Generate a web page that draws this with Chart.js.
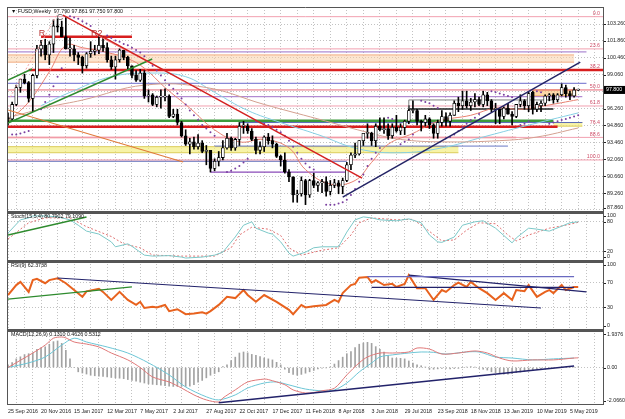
<!DOCTYPE html>
<html>
<head>
<meta charset="utf-8">
<script src="https://cdn.jsdelivr.net/npm/chart.js@4.4.1/dist/chart.umd.min.js"></script>
<style>
  html, body { margin: 0; padding: 0; background: #fff; }
  #wrap { position: relative; width: 625px; height: 419px; overflow: hidden; background: #fff; }
  canvas { position: absolute; left: 0; }
</style>
</head>
<body>
<div id="wrap">
  <canvas id="cMain" width="625" height="218" style="top:0"></canvas>
  <canvas id="cStoch" width="625" height="61" style="top:206px"></canvas>
  <canvas id="cRsi" width="625" height="81" style="top:255px"></canvas>
  <canvas id="cMacd" width="625" height="95" style="top:324px"></canvas>
</div>
<script>
// weekly bars, index 0 = week of 25 Sep 2016
const openP = [95.5,95.4,96.6,98.0,98.7,98.4,97.1,99.0,101.2,101.5,
  100.7,101.6,103.1,103.0,102.2,101.2,101.2,100.7,100.5,99.8,
  100.8,101.0,101.1,101.5,101.3,100.3,99.7,100.3,101.1,100.5,
  99.8,99.0,98.6,99.2,97.3,97.4,96.6,97.2,97.2,97.3,
  95.6,95.8,95.1,94.0,93.3,93.5,93.1,93.4,92.7,92.8,
  91.3,91.9,92.2,93.0,93.8,93.0,93.7,94.8,94.8,94.4,
  93.7,92.8,93.1,93.9,93.6,93.3,92.3,92.0,91.0,90.6,
  89.1,89.2,90.3,89.1,90.3,89.9,90.1,90.2,89.4,89.9,
  90.1,89.8,90.3,91.6,92.4,92.5,93.6,94.2,94.2,93.6,
  94.8,94.5,94.6,94.0,94.7,94.4,94.7,95.2,96.1,96.1,
  95.2,95.1,95.4,94.9,94.2,95.1,95.6,95.2,95.7,96.7,
  96.5,96.9,96.5,96.8,97.0,96.6,97.4,96.9,96.2,96.2,
  95.6,96.3,95.8,95.6,96.6,96.9,96.5,97.6,96.2,96.5,
  96.7,97.3,97.4,97.0,97.4,98.0,97.5,97.3,97.79];
const highP = [95.9,96.8,98.2,98.7,99.1,98.5,99.1,101.5,101.9,102.0,
  101.8,103.6,103.7,103.5,103.8,102.1,101.5,100.9,100.6,100.9,
  101.8,101.5,102.3,102.2,101.7,100.6,100.6,101.2,101.1,100.6,
  99.8,99.4,99.5,99.4,97.8,97.5,97.3,97.8,97.9,97.4,
  96.2,96.2,95.2,94.5,93.8,93.9,94.1,93.6,93.2,92.8,
  92.1,92.7,93.6,94.2,93.9,93.8,95.1,95.2,95.0,94.6,
  93.9,93.5,94.0,94.2,94.0,93.4,92.4,92.6,91.2,90.6,
  89.5,90.6,90.4,90.4,90.9,90.2,90.4,90.6,90.3,90.4,
  90.3,90.5,91.8,92.6,93.4,93.6,94.2,95.0,94.3,95.0,
  95.5,95.5,95.0,95.0,95.7,95.0,95.3,96.5,96.9,96.2,
  95.3,95.7,95.5,95.0,95.3,96.1,95.9,95.9,96.9,97.2,
  97.7,97.7,97.1,97.5,97.2,97.7,97.6,97.0,96.7,96.2,
  96.4,96.7,96.0,96.6,97.4,97.0,97.6,97.7,96.8,96.9,
  97.4,97.5,97.5,97.5,98.3,98.2,97.7,98.0,97.861];
const lowP = [94.9,95.3,96.5,97.6,98.3,96.8,96.0,98.8,100.6,100.3,
  99.9,100.9,102.6,102.2,101.2,100.6,100.2,99.9,99.2,99.6,
  100.5,100.7,100.8,101.0,100.1,99.5,98.7,100.1,100.3,99.5,
  98.8,98.5,98.5,97.1,96.8,96.5,96.4,96.3,96.9,95.5,
  95.5,94.9,93.9,93.2,92.5,92.9,92.9,92.6,91.6,91.0,
  91.1,91.5,92.0,92.9,92.8,92.8,93.2,94.2,94.2,93.6,
  92.5,92.5,92.7,93.3,93.0,92.2,91.5,90.9,90.2,88.5,
  88.5,89.0,88.3,88.9,89.7,89.4,89.3,89.0,89.1,89.7,
  89.2,89.2,90.2,91.2,92.2,92.4,93.2,93.8,93.2,93.1,
  94.4,94.2,93.7,93.8,94.3,94.1,94.1,95.0,95.9,94.9,
  94.4,94.8,94.6,93.8,93.8,94.8,94.8,94.8,95.7,96.0,
  96.2,96.3,96.1,96.4,96.5,96.4,96.5,96.0,95.0,95.0,
  95.4,95.8,94.9,95.5,96.4,96.2,96.0,95.8,96.0,96.0,
  96.5,96.9,96.7,96.8,97.3,97.2,97.0,97.2,97.75];
const closeP = [95.4,96.6,98.0,98.7,98.4,97.1,99.0,101.2,101.5,100.7,
  101.6,103.1,103.0,102.2,101.2,101.2,100.7,100.5,99.8,100.8,
  101.0,101.1,101.5,101.3,100.3,99.7,100.3,101.1,100.5,99.8,
  99.0,98.6,99.2,97.3,97.4,96.6,97.2,97.2,97.3,95.6,
  95.8,95.1,94.0,93.3,93.5,93.1,93.4,92.7,92.8,91.3,
  91.9,92.2,93.0,93.8,93.0,93.7,94.8,94.8,94.4,93.7,
  92.8,93.1,93.9,93.6,93.3,92.3,92.0,91.0,90.6,89.1,
  89.2,90.3,89.1,90.3,89.9,90.1,90.2,89.4,89.9,90.1,
  89.8,90.3,91.6,92.4,92.5,93.6,94.2,94.2,93.6,94.8,
  94.5,94.6,94.0,94.7,94.4,94.7,95.2,96.1,96.1,95.2,
  95.1,95.4,94.9,94.2,95.1,95.6,95.2,95.7,96.7,96.5,
  96.9,96.5,96.8,97.0,96.6,97.4,96.9,96.2,96.2,95.6,
  96.3,95.8,95.6,96.6,96.9,96.5,97.5,96.2,96.6,96.7,
  97.3,97.4,97.0,97.4,98.0,97.5,97.3,97.8,97.8];

// date labels on the time axis (every 8 weeks)
const dateLabels = ['25 Sep 2016','20 Nov 2016','15 Jan 2017','12 Mar 2017','7 May 2017','2 Jul 2017',
  '27 Aug 2017','22 Oct 2017','17 Dec 2017','11 Feb 2018','8 Apr 2018','3 Jun 2018','29 Jul 2018',
  '23 Sep 2018','18 Nov 2018','13 Jan 2019','10 Mar 2019','5 May 2019'];
const dateBars = [0,8,16,24,32,40,48,56,64,72,80,88,96,104,112,120,128,136];

// price scale ticks
const mainTicks = [103.26,101.86,100.46,99.06,97.66,96.26,94.86,93.46,92.06,90.66,89.26,87.86];
const mainTickText = ['103.260','101.860','100.460','99.060','','96.260','94.860','93.460','92.060','90.660','89.260','87.860'];

// moving averages
const fastBars = [0,5,10,14,18,24,29,33,38,44,50,56,62,68,72,78,84,88,92,98,104,112,118,124,130,138];
const fastVals = [95.2,96.8,99.3,101.5,101.3,100.9,100.4,99.6,98.0,96.3,94.5,93.5,93.7,93.0,91.2,90.0,90.3,91.8,93.3,94.2,95.2,95.7,96.3,96.2,96.5,97.0];
const midBars = [8,15,25,35,43,50,58,66,75,85,95,105,115,125,138];
const midVals = [96.5,97.6,98.9,99.2,98.9,97.6,96.1,95.1,94.1,92.9,92.6,93.0,93.9,94.8,95.9];
const slowBars = [0,10,18,33,48,62,75,88,95,105,119,128,138];
const slowVals = [95.5,96.4,96.96,98.2,98.0,96.6,95.4,94.2,93.7,93.5,93.6,93.9,94.65];

// parabolic SAR dots
const sarBars = [1,2,3,4,5,8,9,10,11,12,13,15,16,17,18,19,20,24,25,26,27,28,29,30,31,32,33,34,35,36,37,38,39,40,41,42,43,44,45,46,47,48,49,50,
  53,54,55,56,57,58,60,61,62,63,64,65,66,67,68,69,70,71,72,73,74,77,78,79,80,81,82,83,84,85,86,87,88,89,90,
  92,93,94,95,96,97,98,100,101,102,103,104,106,107,108,109,110,111,112,113,114,117,118,119,120,121,122,124,125,126,128,129,
  131,132,133,134,135,136,137,138];
const sarVals = [94.1,94.1,94.2,94.3,94.4,96.2,96.8,97.4,98.1,98.9,99.6,103.9,103.8,103.7,103.5,103.3,103.1,
  102.3,102.1,101.9,101.8,101.6,101.5,101.3,101.1,100.9,100.6,100.2,99.8,99.4,99.0,98.6,98.2,97.9,97.5,97.1,96.6,96.1,95.7,95.3,94.9,94.6,94.3,94.0,
  91.0,91.1,91.3,91.5,91.8,92.1,95.2,95.1,95.0,94.9,94.7,94.5,94.3,94.0,93.6,93.1,92.6,92.1,91.7,91.4,91.2,
  88.3,88.3,88.3,88.4,88.5,88.7,89.1,89.6,90.2,90.8,91.5,92.1,92.6,93.0,95.5,95.4,95.3,93.3,93.5,93.7,94.1,
  96.9,96.8,96.7,96.5,96.3,93.8,93.9,94.1,94.4,94.7,95.0,95.3,95.5,95.8,97.7,97.6,97.5,97.4,97.3,97.2,
  94.9,95.0,95.2,97.7,97.6,95.0,95.1,95.2,95.3,95.4,95.5,95.6,95.7];

// horizontal levels (price, first bar, last bar)
const levelVals = [103.87,101.2,100.95,99.45,102.2,98.35,97.8,97.24,96.47,95.25,95.1,94.75,93.87,93.87,93.15,92.0,91.9,91.0,96.22,96.97];
const levelFrom = [0,0,0,5,8,0,0,0,0,0,56,0,0,0,50,0,0,49,97,97];
const levelTo   = [144,144,140,144,30,140,144,139,144,132,139,133,144,123,121,144,82,82,132,132];
const levelColors = ['#f2a0b0','#f2a0b0','#9a70c8','#d81e1e','#d81e1e','#6a6acc','#e86a78','#a070c8','#f2a0b0','#3c9a3c',
  '#5a6ab8','#d81e1e','#f2a0b0','#ee7e7e','#6878c4','#f2a0b0','#4a5ab0','#8a4ab8','#202020','#808080'];
const levelWidths = [1,1,1,2.5,2.5,1,1,1,1,2.5,1,2.5,1,1.5,1,1,1,1.2,1.5,1];

// shaded zones (low, high, first bar, last bar)
const bandLo = [100.1,92.6,97.3,94.8];
const bandHi = [100.7,93.1,97.8,95.1];
const bandFrom = [0,0,127,132];
const bandTo = [137,109,137.6,139];
const bandFill = ['rgba(250,204,160,0.5)','rgba(242,236,120,0.65)','rgba(250,190,110,0.6)','rgba(245,240,140,0.75)'];
const bandEdge = ['#f3ae82','#dccd5a','#eea050','#dccd5a'];

// trend lines (bar, price) -> (bar, price)
const trendX1 = [13.3,21.5,0,0,0,81,0.5,97];
const trendY1 = [104.0,102.35,95.06,98.62,96.14,88.93,97.2,96.22];
const trendX2 = [85.7,36.8,34.9,5.8,42.4,138.5,12.1,97];
const trendY2 = [90.5,99.6,100.36,99.53,91.83,100.11,104.17,96.97];
const trendColors = ['#d42020','#ee8080','#2e8b2e','#2e8b2e','#e07a3a','#242466','#f0a0a0','#808080'];
const trendWidths = [1.5,1,1.5,1.5,1.2,1.5,1,1];

// fibonacci labels
const fibVals = [103.87,101.2,99.45,97.8,96.47,94.84,93.87,92.0];
const fibText = ['0.0','23.6','38.2','50.0','61.8','76.4','88.6','100.0'];

// chart notes
const noteText = ['R','R2','C'];
const noteBars = [8.2,21.5,12.6];
const noteVals = [102.45,102.45,103.78];

// Stochastic (15,5,4)
const stochBars = [0,3,5,6,9,12,15,17,19,22,25,26,29,30,33,35,39,42,43,47,50,52,55,57,59,60,63,64,66,68,69,72,74,76,80,82,84,86,88,90,94,97,100,102,104,105,108,110,113,115,118,122,123,126,128,131,134,136,138];
const stochK = [57,84,88,92,92,90,84,73,61,55,39,29,35,30,12,10,11,8,6,8,12,18,49,73,80,67,57,55,39,16,10,18,27,29,29,59,84,90,88,84,82,86,78,53,39,38,49,73,80,82,67,37,47,67,65,61,71,78,80];
const stochSigBars = [0,5,9,15,19,22,25,28,32,35,42,50,54,56,59,63,66,68,71,76,80,83,85,88,94,98,101,105,108,111,114,118,121,123,126,131,135,138];
const stochD = [45,78,88,88,70,60,50,35,27,12,10,10,27,53,69,65,52,27,12,22,27,53,78,88,84,85,67,41,43,63,78,76,53,41,53,67,73,79];

// RSI (9)
const rsiBars = [0,2,3,5,6,7,9,10,12,14,16,18,19,22,23,25,27,29,31,32,33,35,36,38,39,41,43,45,47,48,49,51,53,55,57,58,60,62,65,68,
  69,71,72,74,77,79,80,81,83,84,85,87,88,89,91,93,94,96,97,99,101,103,105,106,108,109,111,112,114,116,118,120,122,123,125,126,128,130,131,132,134,135,137,138];
const rsiVals = [50,66,71,55,74,76,69,74,77,69,58,47,56,60,55,42,55,42,34,39,29,31,30,34,24,27,19,20,22,20,24,34,47,45,58,50,39,50,39,26,
  19,34,30,32,34,42,39,53,66,68,78,79,70,74,66,68,63,68,82,61,61,42,58,55,66,70,63,71,61,53,42,53,42,58,56,66,47,55,58,53,66,58,63,63];
const rsiLineX1 = [12,0,87,88,97];
const rsiLineY1 = [77.4,43.5,79.5,62.4,82];
const rsiLineX2 = [129,30,137,137,140];
const rsiLineY2 = [29,63,79.5,62.4,55];

// MACD (12,26,9)
const macdBars = [0,6,9,11,13,14,16,19,22,25,29,32,35,39,42,45,48,51,52,55,58,62,63,67,69,72,74,76,79,82,85,87,90,93,97,99,102,105,109,113,116,119,122,127,132,137,138];
const macdVals = [0,0.84,1.3,1.7,1.77,1.72,1.48,1.36,1.19,0.84,0.44,0,-0.55,-0.84,-1.19,-1.59,-1.88,-2.0,-1.77,-1.3,-0.84,-0.67,-0.7,-1.0,-1.3,-1.48,-1.45,-1.35,-1.2,-0.43,
  0.27,0.61,0.84,0.84,0.9,1.13,1.07,0.78,0.84,0.96,0.84,0.55,0.38,0.44,0.44,0.55,0.56];
const macdSigBars = [0,5,9,13,16,19,24,29,34,39,43,48,51,55,58,62,65,68,72,76,79,82,85,88,90,93,97,100,103,106,111,114,118,122,127,132,137];
const macdSig = [0,0.27,0.61,1.3,1.7,1.48,1.19,0.84,0.27,-0.43,-1.13,-1.7,-1.88,-1.59,-1.19,-0.9,-0.84,-1.01,-1.25,-1.35,-1.3,-0.9,-0.26,0.26,0.61,0.73,0.84,0.9,0.88,0.78,0.9,0.9,0.61,0.55,0.44,0.5,0.55];
const macdHist = [0.15,0.28,0.5,0.62,0.75,0.8,0.85,1.05,1.14,1.2,1.35,1.5,1.54,1.4,1.0,0.5,0.0,-0.25,-0.32,-0.38,
  -0.45,-0.48,-0.5,-0.52,-0.55,-0.58,-0.6,-0.62,-0.65,-0.7,-0.75,-0.8,-0.85,-0.9,-0.95,-0.98,-1.0,-1.03,-1.05,-1.08,
  -1.1,-1.1,-1.1,-1.1,-1.08,-1.0,-0.85,-0.75,-0.6,-0.45,-0.35,-0.25,0.05,0.15,0.4,0.6,0.84,0.9,0.85,0.76,
  0.7,0.63,0.55,0.5,0.44,0.3,0.15,-0.1,-0.3,-0.4,-0.45,-0.4,-0.33,-0.25,-0.17,-0.08,-0.04,-0.02,0.02,0.2,
  0.4,0.6,0.8,0.92,1.15,1.35,1.42,1.46,1.4,1.21,1.05,0.9,0.7,0.55,0.53,0.53,0.5,0.38,0.25,0.15,
  0.1,0.02,-0.1,-0.1,-0.08,-0.05,-0.06,-0.08,-0.06,-0.05,0.0,0.03,0.05,0.02,-0.05,-0.1,-0.15,-0.25,-0.3,-0.36,
  -0.39,-0.38,-0.36,-0.3,-0.27,-0.22,-0.2,-0.17,-0.1,-0.08,-0.05,-0.05,-0.04,0.0,0.02,0.03,0.02,0.02,0.03];

const FONT = '5.3px "Liberation Sans", Arial, "DejaVu Sans", sans-serif';
const GRID = '#c2c2c2';

function pts(xs, ys) {
  return xs.map((x, k) => ({ x: x, y: ys[k] }));
}

function segment(x1, y1, x2, y2, color, width, order, dash) {
  return {
    type: 'line', data: [{ x: x1, y: y1 }, { x: x2, y: y2 }],
    borderColor: color, borderWidth: width, borderDash: dash || [],
    pointRadius: 0, fill: false, tension: 0, order: order
  };
}

function series(xs, ys, color, width, order, extra) {
  return Object.assign({
    type: 'line', data: pts(xs, ys), borderColor: color, borderWidth: width,
    pointRadius: 0, fill: false, tension: 0, order: order
  }, extra || {});
}

// draws bands, frame, right scale labels and texts
function makePanePlugin(p) {
  return {
    id: 'pane',
    beforeDatasetsDraw(chart) {
      if (!p.bands) return;
      const { ctx, chartArea: a, scales: { x, y } } = chart;
      ctx.save();
      ctx.beginPath();
      ctx.rect(a.left, a.top, a.right - a.left, a.bottom - a.top);
      ctx.clip();
      p.bands.lo.forEach((lo, k) => {
        const x1 = x.getPixelForValue(p.bands.from[k]);
        const x2 = x.getPixelForValue(p.bands.to[k]);
        const y1 = y.getPixelForValue(p.bands.hi[k]);
        const y2 = y.getPixelForValue(lo);
        ctx.fillStyle = p.bands.fill[k];
        ctx.fillRect(x1, y1, x2 - x1, y2 - y1);
        ctx.strokeStyle = p.bands.edge[k];
        ctx.lineWidth = 1;
        ctx.beginPath();
        ctx.moveTo(x1, y1); ctx.lineTo(x2, y1);
        ctx.moveTo(x1, y2); ctx.lineTo(x2, y2);
        ctx.stroke();
      });
      ctx.restore();
    },
    afterDraw(chart) {
      const { ctx, chartArea: a, scales: { y } } = chart;
      ctx.save();
      // frame
      ctx.strokeStyle = '#555';
      ctx.lineWidth = 1;
      ctx.beginPath();
      ctx.moveTo(a.left - 0.5, a.top); ctx.lineTo(a.left - 0.5, a.bottom);
      ctx.moveTo(a.right + 0.5, a.top); ctx.lineTo(a.right + 0.5, a.bottom);
      ctx.moveTo(a.left, a.bottom - 0.5); ctx.lineTo(a.right, a.bottom - 0.5);
      ctx.stroke();
      ctx.lineWidth = p.topWidth;
      ctx.beginPath();
      ctx.moveTo(a.left - 1, a.top + p.topWidth / 2); ctx.lineTo(a.right + 1, a.top + p.topWidth / 2);
      ctx.stroke();

      // right scale labels
      ctx.font = FONT;
      ctx.textAlign = 'left';
      ctx.textBaseline = 'middle';
      p.tickVals.forEach((v, k) => {
        if (!p.tickText[k]) return;
        let py = y.getPixelForValue(v);
        py = Math.min(Math.max(py, a.top + 4), a.bottom - 4);
        ctx.fillStyle = '#222';
        ctx.fillText(p.tickText[k], a.right + 4, py);
        ctx.fillRect(a.right + 1, Math.round(py), 2, 1);
      });

      if (p.main) {
        // fibo labels
        ctx.textAlign = 'right';
        ctx.textBaseline = 'bottom';
        ctx.fillStyle = '#d0506a';
        fibVals.forEach((v, k) => {
          ctx.fillText(fibText[k], a.right - 3, y.getPixelForValue(v) - 0.5);
        });
        // notes R, R2, C
        ctx.textAlign = 'center';
        ctx.textBaseline = 'middle';
        ctx.font = '9px "Liberation Sans", Arial, sans-serif';
        noteText.forEach((t, k) => {
          ctx.fillStyle = t === 'C' ? '#555' : '#b83434';
          ctx.fillText(t, chart.scales.x.getPixelForValue(noteBars[k]), y.getPixelForValue(noteVals[k]));
        });
        // current price tag
        const last = closeP[closeP.length - 1];
        const py = y.getPixelForValue(last);
        ctx.fillStyle = '#000';
        ctx.fillRect(a.right + 1, py - 4, 22, 8);
        ctx.fillStyle = '#fff';
        ctx.font = FONT;
        ctx.textAlign = 'left';
        ctx.fillText(last.toFixed(3), a.right + 3, py);
      }

      // panel title
      ctx.font = FONT;
      ctx.textAlign = 'left';
      ctx.textBaseline = 'middle';
      ctx.fillStyle = '#111';
      ctx.fillText(p.title, a.left + 3, a.top + 5);
      ctx.restore();
    }
  };
}

function paneChart(id, p) {
  return new Chart(document.getElementById(id), {
    type: 'line',
    data: { datasets: p.datasets },
    options: {
      responsive: false,
      animation: false,
      events: [],
      layout: { padding: { left: 8, right: 0, top: p.padTop, bottom: p.padBottom } },
      plugins: { legend: { display: false }, tooltip: { enabled: false } },
      scales: {
        x: {
          type: 'linear', min: 0, max: 144, offset: false,
          ticks: {
            display: !!p.dates, stepSize: 4, autoSkip: false, maxRotation: 0,
            align: 'start', padding: 3, color: '#222',
            font: { size: 5.3, family: '"Liberation Sans", Arial, sans-serif' },
            callback: function (v) {
              const k = dateBars.indexOf(v);
              return k >= 0 ? dateLabels[k] : '';
            }
          },
          grid: { color: GRID, lineWidth: 1, drawTicks: false },
          border: { display: false, dash: [1, 2] },
          afterFit: function (s) { s.height = p.dates ? 14 : 0; }
        },
        y: {
          type: 'linear', position: 'right', min: p.min, max: p.max,
          afterBuildTicks: function (s) { s.ticks = p.gridVals.map(v => ({ value: v })); },
          ticks: { display: false },
          grid: { color: GRID, lineWidth: 1, drawTicks: false },
          border: { display: false, dash: [1, 2] },
          afterFit: function (s) { s.width = 22; }
        }
      }
    },
    plugins: [makePanePlugin(p)]
  });
}

// ---------- main price pane ----------
const mainSets = [];
levelVals.forEach((v, k) => {
  mainSets.push(segment(levelFrom[k], v, levelTo[k], v, levelColors[k], levelWidths[k], 6));
});
mainSets.push(series(slowBars, slowVals, '#d4a090', 1, 5, { tension: 0.4 }));
mainSets.push(series(midBars, midVals, '#86d0e4', 1, 5, { tension: 0.4 }));
mainSets.push(series(fastBars, fastVals, '#e88272', 1, 5, { tension: 0.4 }));
mainSets.push({
  type: 'scatter', data: pts(sarBars, sarVals), showLine: false,
  pointRadius: 1, pointBorderWidth: 0, pointBackgroundColor: '#7a3fa0', order: 4
});
mainSets.push({
  type: 'bar', data: closeP.map((c, i) => ({ x: i, y: [lowP[i], highP[i]] })),
  backgroundColor: '#000', barThickness: 1, grouped: false, order: 3
});
mainSets.push({
  type: 'bar', data: closeP.map((c, i) => ({ x: i, y: [openP[i], c] })),
  backgroundColor: ctx => (closeP[ctx.dataIndex] >= openP[ctx.dataIndex] ? '#fff' : '#000'),
  borderColor: '#000', borderWidth: 0.8, borderSkipped: false,
  barThickness: 3, grouped: false, minBarLength: 1, order: 2
});
trendX1.forEach((x1, k) => {
  mainSets.push(segment(x1, trendY1[k], trendX2[k], trendY2[k], trendColors[k], trendWidths[k], 1, k === 6 ? [2, 2] : []));
});

paneChart('cMain', {
  datasets: mainSets, padTop: 7, padBottom: 6, min: 87.69, max: 104.67,
  gridVals: mainTicks, tickVals: mainTicks, tickText: mainTickText,
  title: '\u25BC FUSD,Weekly  97.790 97.861 97.750 97.800', topWidth: 1, main: true,
  bands: { lo: bandLo, hi: bandHi, from: bandFrom, to: bandTo, fill: bandFill, edge: bandEdge }
});

// ---------- stochastic ----------
paneChart('cStoch', {
  datasets: [
    series(stochBars, stochK, '#7cc8c8', 1, 2),
    series(stochSigBars, stochD, '#e07272', 1, 3, { borderDash: [2, 2] }),
    segment(0, 53, 19, 90, '#2e8b2e', 1.5, 1)
  ],
  padTop: 6, padBottom: 6, min: 0, max: 100,
  gridVals: [20, 80], tickVals: [100, 80, 20, 0], tickText: ['100', '80', '20', '0'],
  title: 'Stoch(15,5,4) 80.7902 79.1090', topWidth: 2
});

// ---------- RSI ----------
const rsiSets = [series(rsiBars, rsiVals, '#e8621e', 2, 2)];
rsiLineX1.forEach((x1, k) => {
  const col = ['#22226a', '#2e8b2e', '#6a6ac0', '#22226a', '#22226a'][k];
  rsiSets.push(segment(x1, rsiLineY1[k], rsiLineX2[k], rsiLineY2[k], col, 1.2, 1));
});
paneChart('cRsi', {
  datasets: rsiSets, padTop: 6, padBottom: 6, min: -6.45, max: 104.84,
  gridVals: [30, 70], tickVals: [100, 70, 30, 0], tickText: ['100', '70', '30', '0'],
  title: 'RSI(9) 62.3738', topWidth: 2
});

// ---------- MACD ----------
paneChart('cMacd', {
  datasets: [
    { type: 'bar', data: macdHist.map((v, i) => ({ x: i, y: v })), backgroundColor: '#a2a2a2', barThickness: 1, grouped: false, order: 4 },
    series(macdBars, macdVals, '#e07878', 1, 2, { tension: 0.3 }),
    series(macdSigBars, macdSig, '#6cc6d6', 1, 3, { tension: 0.3 }),
    segment(51, -2.05, 137, 0.09, '#22226a', 1.5, 1)
  ],
  padTop: 6, padBottom: 0, min: -2.175, max: 2.175, dates: true,
  gridVals: [0], tickVals: [1.9376, 0, -2.066], tickText: ['1.9376', '0.00', '-2.0660'],
  title: 'MACD(12,26,9) 0.1310 0.4626 0.5312', topWidth: 2
});
</script>
</body>
</html>
